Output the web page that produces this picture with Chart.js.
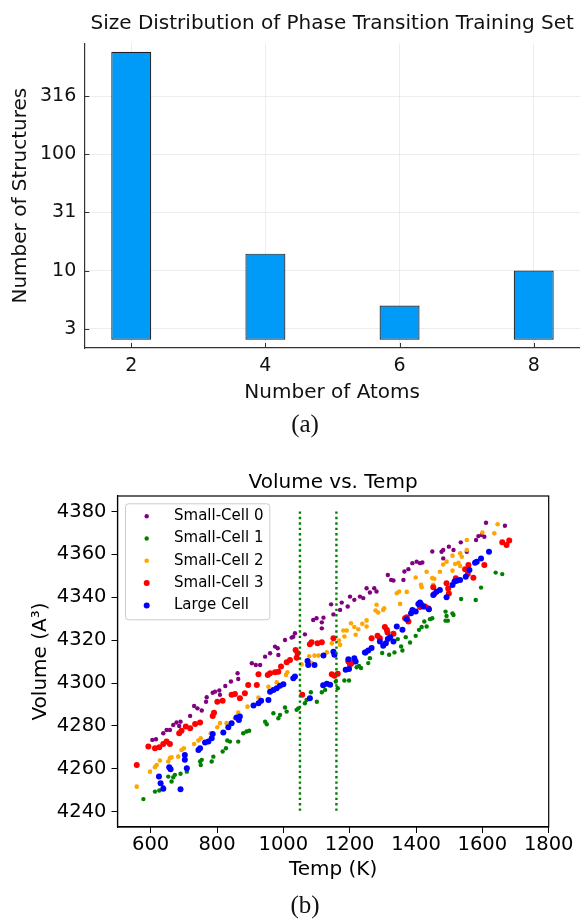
<!DOCTYPE html>
<html>
<head>
<meta charset="utf-8">
<script src="https://cdn.jsdelivr.net/npm/chart.js@4.4.0/dist/chart.umd.min.js"></script>
<style>
  html, body { margin: 0; padding: 0; background: #fff; }
  body { width: 580px; height: 919px; position: relative; overflow: hidden; }
  canvas { position: absolute; left: 0; }
  #sizeChart { top: 0; }
  #volumeChart { top: 460px; }
  .caption { position: absolute; left: 0; width: 610px; text-align: center;
             font-family: 'Liberation Serif', serif; font-size: 25px; line-height: 30px; color: #111; }
</style>
</head>
<body>
<canvas id="sizeChart" width="580" height="410"></canvas>
<div class="caption" style="top:409px">(a)</div>
<canvas id="volumeChart" width="580" height="440"></canvas>
<div class="caption" style="top:890px">(b)</div>
<script>
// (a) size distribution
const atomCounts = [2, 4, 6, 8];
const structureCounts = [764, 14, 5, 10];
const barBase = 2.54;
const structureTicks = [3.1623, 10, 31.623, 100, 316.23];
const structureTickLabels = ['3', '10', '31', '100', '316'];

// (b) volume vs temperature, [T (K), V]
const tempTicks = [600, 800, 1000, 1200, 1400, 1600, 1800];
const volumeTicks = [4240, 4260, 4280, 4300, 4320, 4340, 4360, 4380];
const transitionTemps = [1050, 1160];
const transitionSpan = [4380, 4240];
const seriesNames = ['Small-Cell 0', 'Small-Cell 1', 'Small-Cell 2', 'Small-Cell 3', 'Large Cell'];

const smallCell0 = [
  [605,4273.5],[616,4273.8],[638,4276.6],[648,4278.1],[658,4278.1],[668,4280.5],[678,4281.6],[690,4282.0],[686,4280.0],
  [719,4284.7],[731,4289.3],[741,4288.2],[754,4287.2],[767,4291.3],[769,4293.4],[787,4295.5],[794,4296.0],[807,4296.5],
  [809,4294.5],[825,4298.6],[842,4300.7],[862,4304.6],[864,4301.9],[905,4309.2],[917,4308.4],[930,4308.4],[945,4312.3],
  [960,4313.9],[975,4317.0],[983,4316.2],[985,4313.1],[1005,4320.1],[1025,4321.2],[1035,4323.2],[1030,4321.6],[1065,4322.7],
  [1090,4329.4],[1100,4330.2],[1121,4330.5],[1116,4328.3],[1116,4325.5],[1144,4336.7],[1151,4332.0],[1171,4334.1],[1176,4337.5],
  [1194,4335.7],[1201,4340.3],[1214,4338.8],[1231,4340.3],[1241,4339.6],[1251,4344.2],[1261,4342.2],[1274,4344.2],[1281,4342.7],
  [1315,4350.4],[1325,4348.1],[1332,4347.8],[1362,4348.1],[1365,4352.0],[1377,4353.1],[1389,4355.9],[1402,4356.6],[1412,4355.9],
  [1419,4356.2],[1449,4361.3],[1477,4361.2],[1482,4362.0],[1482,4358.1],[1499,4363.6],[1513,4362.0],[1535,4365.6],[1553,4361.2],
  [1581,4366.7],[1588,4368.5],[1598,4369.0],[1606,4368.2],[1611,4374.7],[1668,4373.3]
];
const smallCell1 = [
  [578,4245.9],[613,4249.4],[626,4249.9],[638,4251.4],[653,4256.4],[663,4254.1],[668,4256.1],[673,4257.2],[690,4257.7],
  [709,4258.7],[749,4263.4],[754,4264.2],[751,4261.8],[784,4263.4],[789,4265.7],[817,4268.1],[827,4269.6],[831,4273.2],
  [839,4272.7],[864,4272.7],[879,4276.6],[889,4277.4],[897,4277.8],[945,4282.0],[950,4280.8],[970,4285.9],[985,4283.6],
  [990,4285.1],[1005,4288.6],[1010,4286.7],[1040,4287.5],[1045,4288.2],[1065,4290.6],[1070,4292.1],[1083,4295.7],[1101,4291.3],
  [1116,4295.7],[1126,4296.8],[1158,4300.7],[1164,4297.6],[1184,4301.2],[1198,4301.2],[1221,4307.4],[1228,4308.0],[1234,4307.0],
  [1256,4309.3],[1261,4311.6],[1298,4314.0],[1319,4313.2],[1335,4314.3],[1345,4320.5],[1355,4317.1],[1359,4315.2],[1369,4321.4],
  [1382,4318.9],[1399,4322.0],[1409,4324.8],[1417,4326.1],[1425,4328.7],[1432,4326.4],[1442,4329.8],[1449,4330.2],[1439,4334.0],
  [1489,4333.3],[1492,4331.3],[1489,4329.1],[1496,4329.1],[1510,4332.5],[1513,4331.7],[1536,4339.2],[1580,4338.7],[1596,4344.5],
  [1640,4351.5],[1660,4350.8]
];
const smallCell2 = [
  [558,4251.7],[598,4258.7],[613,4260.8],[618,4261.8],[628,4263.9],[653,4263.4],[658,4265.0],[663,4265.4],[683,4265.7],
  [693,4268.8],[700,4269.6],[731,4271.6],[744,4273.2],[751,4274.3],[781,4276.6],[801,4279.4],[809,4281.3],[829,4281.3],
  [854,4283.6],[864,4286.2],[892,4289.0],[925,4293.2],[955,4298.3],[980,4300.4],[1008,4303.8],[1012,4305.0],[1055,4308.7],
  [1078,4312.5],[1085,4309.5],[1094,4312.8],[1106,4312.8],[1146,4318.5],[1131,4314.3],[1168,4319.8],[1171,4317.8],[1181,4324.5],
  [1191,4324.5],[1184,4321.7],[1204,4327.9],[1214,4326.1],[1226,4325.1],[1218,4322.5],[1238,4327.6],[1251,4329.2],[1251,4326.4],
  [1281,4336.5],[1278,4333.8],[1286,4332.9],[1301,4334.1],[1304,4334.9],[1342,4341.9],[1349,4342.7],[1352,4336.9],[1372,4342.5],
  [1399,4349.2],[1415,4345.8],[1417,4344.7],[1449,4348.9],[1452,4345.8],[1432,4351.9],[1455,4348.6],[1472,4351.9],[1482,4355.3],
  [1492,4356.6],[1510,4359.4],[1518,4355.5],[1528,4356.1],[1533,4360.5],[1538,4358.9],[1533,4354.6],[1510,4352.4],[1553,4366.7],
  [1553,4362.0],[1600,4370.2],[1636,4369.8],[1646,4374.0]
];
const smallCell3 = [
  [558,4261.8],[593,4270.4],[613,4269.6],[626,4270.1],[638,4271.6],[648,4272.7],[658,4271.6],[686,4276.6],[693,4277.8],
  [706,4279.7],[719,4278.9],[734,4280.9],[749,4281.6],[787,4284.7],[791,4286.2],[801,4291.3],[817,4291.8],[844,4294.5],
  [854,4294.9],[869,4292.9],[884,4295.2],[894,4299.1],[920,4299.1],[925,4304.1],[953,4303.8],[960,4304.6],[975,4305.0],
  [985,4305.3],[993,4307.7],[1010,4309.7],[1020,4310.8],[1037,4315.4],[1043,4313.9],[1040,4311.8],[1057,4294.5],[1080,4318.1],
  [1085,4319.0],[1103,4318.5],[1116,4319.0],[1146,4304.1],[1151,4320.9],[1154,4303.4],[1164,4304.3],[1196,4310.1],[1201,4308.5],
  [1206,4309.3],[1248,4314.3],[1266,4320.9],[1284,4322.0],[1291,4320.9],[1306,4326.1],[1312,4324.8],[1314,4323.6],[1332,4323.0],
  [1367,4330.2],[1372,4330.7],[1377,4328.7],[1412,4335.4],[1417,4336.5],[1427,4335.7],[1437,4334.9],[1452,4344.7],[1455,4341.5],
  [1492,4346.5],[1497,4344.1],[1499,4341.8],[1520,4348.8],[1548,4353.0],[1556,4350.8],[1558,4355.0],[1573,4349.1],[1606,4355.0],
  [1660,4365.6],[1673,4364.3],[1681,4366.4]
];
const largeCell = [
  [625,4256.4],[630,4253.3],[638,4250.7],[656,4260.8],[660,4259.8],[690,4250.5],[703,4266.5],[703,4264.2],[709,4260.3],
  [744,4268.8],[749,4269.6],[764,4272.3],[774,4272.7],[784,4274.3],[787,4276.3],[819,4276.9],[834,4279.4],[844,4281.3],
  [859,4283.9],[866,4282.8],[869,4284.4],[910,4289.5],[925,4290.6],[933,4291.7],[955,4292.1],[960,4296.0],[970,4296.8],
  [980,4297.6],[990,4298.8],[1000,4299.4],[1030,4302.2],[1035,4303.0],[1073,4310.3],[1075,4308.4],[1080,4292.9],[1094,4308.4],
  [1121,4312.8],[1120,4299.0],[1131,4299.7],[1141,4299.2],[1151,4314.6],[1154,4313.2],[1188,4306.2],[1196,4311.1],[1198,4306.5],
  [1214,4311.6],[1218,4310.1],[1246,4314.3],[1256,4315.2],[1266,4316.3],[1291,4319.4],[1301,4317.4],[1309,4318.6],[1315,4320.5],
  [1322,4321.4],[1332,4319.4],[1342,4326.4],[1359,4324.8],[1372,4329.8],[1385,4332.6],[1389,4334.1],[1399,4333.4],[1407,4336.9],
  [1412,4337.5],[1422,4335.7],[1439,4334.4],[1452,4341.1],[1462,4342.6],[1472,4343.4],[1492,4340.0],[1510,4345.7],[1516,4347.3],
  [1523,4347.7],[1533,4348.0],[1550,4349.6],[1561,4352.7],[1578,4356.1],[1583,4356.6],[1596,4358.1],[1620,4361.2]
];

Chart.defaults.font.family = "'DejaVu Sans', sans-serif";
Chart.defaults.color = '#000';

// julia-style inward tick marks
const innerTicks = {
  id: 'innerTicks',
  afterDatasetsDraw(chart) {
    const { ctx, chartArea: a, scales: { x, y } } = chart;
    ctx.save();
    ctx.strokeStyle = '#333';
    ctx.lineWidth = 1;
    x.ticks.forEach(t => {
      const px = Math.round(x.getPixelForValue(t.value)) + 0.5;
      ctx.beginPath(); ctx.moveTo(px, a.bottom); ctx.lineTo(px, a.bottom - 5); ctx.stroke();
    });
    y.ticks.forEach(t => {
      const py = Math.round(y.getPixelForValue(t.value)) + 0.5;
      ctx.beginPath(); ctx.moveTo(a.left, py); ctx.lineTo(a.left + 5, py); ctx.stroke();
    });
    ctx.restore();
  }
};

new Chart(document.getElementById('sizeChart'), {
  type: 'bar',
  data: {
    datasets: [{
      label: 'Structures',
      data: atomCounts.map((a, i) => ({ x: a, y: [barBase, structureCounts[i]] })),
      backgroundColor: '#009AF9',
      borderColor: '#1d2024',
      borderWidth: 1.2,
      borderSkipped: false,
      categoryPercentage: 1,
      barPercentage: 0.298
    }]
  },
  options: {
    responsive: false,
    animation: false,
    layout: { padding: 0 },
    plugins: {
      legend: { display: false },
      tooltip: { enabled: false },
      title: {
        display: true,
        fullSize: false,
        text: 'Size Distribution of Phase Transition Training Set',
        font: { size: 20, weight: 'normal' },
        color: '#111',
        padding: { top: 12, bottom: 7.3 }
      }
    },
    scales: {
      x: {
        type: 'linear', min: 1.3, max: 8.69, offset: false,
        grid: { offset: false, color: 'rgba(0,0,0,0.07)', drawTicks: false },
        border: { color: '#333', width: 1.2 },
        ticks: { font: { size: 19 }, color: '#111', padding: 6.6 },
        afterBuildTicks: s => { s.ticks = atomCounts.map(v => ({ value: v })); },
        afterFit: s => { s.height = 62; },
        title: { display: true, text: 'Number of Atoms', font: { size: 20 }, color: '#111', padding: { top: 0, bottom: 5.3 } }
      },
      y: {
        type: 'logarithmic', min: 2.16, max: 902,
        grid: { color: 'rgba(0,0,0,0.07)', drawTicks: false },
        border: { color: '#333', width: 1.2 },
        ticks: { font: { size: 19 }, color: '#111', padding: 8, callback: (v, i) => structureTickLabels[i] },
        afterBuildTicks: s => { s.ticks = structureTicks.map(v => ({ value: v })); },
        afterFit: s => { s.width = 84.3; },
        title: { display: true, text: 'Number of Structures', font: { size: 20 }, color: '#111', padding: { top: 8.5, bottom: 0 } }
      }
    }
  },
  plugins: [innerTicks]
});

// matplotlib-style box + legend
const frameBox = {
  id: 'frameBox',
  afterDatasetsDraw(chart) {
    const { ctx, chartArea: a } = chart;
    ctx.save();
    ctx.strokeStyle = '#000';
    ctx.lineWidth = 1.2;
    ctx.strokeRect(a.left, a.top, a.right - a.left, a.bottom - a.top);

    const left = a.left + 7.5, top = a.top + 7.3;
    ctx.fillStyle = 'rgba(255,255,255,0.8)';
    ctx.strokeStyle = '#cccccc';
    ctx.lineWidth = 1;
    ctx.beginPath();
    ctx.roundRect(left + 0.5, top + 0.5, 144.3, 116, 3);
    ctx.fill();
    ctx.stroke();
    ctx.font = "15px 'DejaVu Sans'";
    ctx.textBaseline = 'middle';
    chart.data.datasets.slice(0, seriesNames.length).forEach((ds, i) => {
      const cy = top + 12.9 + i * 22.3;
      ctx.fillStyle = ds.backgroundColor;
      ctx.beginPath();
      ctx.arc(left + 21.7, cy, ds.pointRadius, 0, Math.PI * 2);
      ctx.fill();
      ctx.fillStyle = '#000';
      ctx.fillText(ds.label, left + 49, cy);
    });
    ctx.restore();
  }
};

const seriesData = [smallCell0, smallCell1, smallCell2, smallCell3, largeCell];
const seriesColors = ['#800080', '#008000', '#FFA500', '#FF0000', '#0000FF'];
const seriesRadius = [2.2, 2.2, 2.3, 3.0, 3.0];

const volumeDatasets = seriesData.map((pts, i) => ({
  type: 'scatter',
  label: seriesNames[i],
  data: pts.map(p => ({ x: p[0], y: p[1] })),
  backgroundColor: seriesColors[i],
  pointRadius: seriesRadius[i],
  pointHoverRadius: seriesRadius[i],
  pointBorderWidth: 0,
  order: 10 - i
}));
transitionTemps.forEach(t => {
  volumeDatasets.push({
    type: 'line',
    label: 'T = ' + t,
    data: transitionSpan.map(v => ({ x: t, y: v })),
    borderColor: '#008000',
    borderWidth: 2.4,
    borderDash: [2.4, 3],
    pointRadius: 0,
    fill: false,
    order: 0
  });
});

new Chart(document.getElementById('volumeChart'), {
  type: 'scatter',
  data: { datasets: volumeDatasets },
  options: {
    responsive: false,
    animation: false,
    layout: { padding: { top: 0, right: 31.3, bottom: 0, left: 0 } },
    plugins: {
      legend: { display: false },
      tooltip: { enabled: false },
      title: {
        display: true,
        fullSize: false,
        text: 'Volume vs. Temp',
        font: { size: 20, weight: 'normal' },
        color: '#000',
        padding: { top: 10.5, bottom: 1.5 }
      }
    },
    scales: {
      x: {
        type: 'linear', min: 500, max: 1800,
        grid: { drawOnChartArea: false, color: '#000', tickLength: 6 },
        border: { color: '#000', width: 1.2 },
        ticks: { font: { size: 19.5 }, color: '#000', padding: 0, callback: v => String(v) },
        afterBuildTicks: s => { s.ticks = tempTicks.map(v => ({ value: v })); },
        afterFit: s => { s.height = 73; },
        title: { display: true, text: 'Temp (K)', font: { size: 20 }, color: '#000', padding: { top: 0, bottom: 18 } }
      },
      y: {
        type: 'linear', min: 4232.9, max: 4387.2,
        grid: { drawOnChartArea: false, color: '#000', tickLength: 6 },
        border: { color: '#000', width: 1.2 },
        ticks: { font: { size: 19.5 }, color: '#000', padding: 5, callback: v => String(v) },
        afterBuildTicks: s => { s.ticks = volumeTicks.map(v => ({ value: v })); },
        afterFit: s => { s.width = 117.5; },
        title: { display: true, text: 'Volume (A³)', font: { size: 20 }, color: '#000', padding: { top: 29, bottom: 0 } }
      }
    }
  },
  plugins: [frameBox]
});
</script>
</body>
</html>
